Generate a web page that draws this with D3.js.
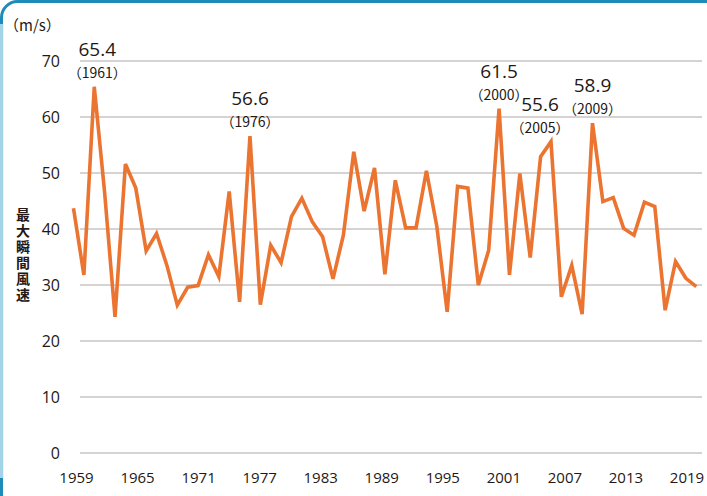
<!DOCTYPE html>
<html>
<head>
<meta charset="utf-8">
<script src="https://cdn.jsdelivr.net/npm/d3@7"></script>
<style>
  body { margin: 0; background: #fff; }
  text { fill: #231815; }
  .tick text { font-family: 'Open Sans', 'Noto Sans', sans-serif; font-size: 15px; }
</style>
</head>
<body>
<div id="chart"></div>
<script>
// yearly maximum gust (m/s), 1959-2019
let years = d3.range(1959, 2020)
let gust = [
  43.7, 31.8, 65.4, 46.5, 24.3, 51.6, 47.3, 36.1, 39.2, 33.5,
  26.4, 29.6, 29.9, 35.4, 31.5, 46.7, 27.0, 56.6, 26.5, 37.1,
  34.0, 42.2, 45.5, 41.3, 38.6, 31.1, 38.9, 53.8, 43.2, 50.9,
  31.9, 48.7, 40.2, 40.2, 50.4, 40.5, 25.2, 47.6, 47.3, 30.0,
  36.2, 61.5, 31.8, 49.9, 34.9, 52.9, 55.6, 27.9, 33.5, 24.8,
  58.9, 44.9, 45.6, 40.1, 38.9, 44.8, 44.0, 25.5, 34.2, 31.2,
  29.7
]
let tickYears = [1959, 1965, 1971, 1977, 1983, 1989, 1995, 2001, 2007, 2013, 2019]
let yTicks = [0, 10, 20, 30, 40, 50, 60, 70]
let peakYears = [1961, 1976, 2000, 2005, 2009]
let unitLabel = '（m/s）'
let axisTitle = '最大瞬間風速'

let width = 707
let height = 496
let data = years.map(function (y, i) { return { year: y, v: gust[i] } })

let svg = d3.select('#chart').append('svg')
  .attr('width', width)
  .attr('height', height)

// frame
svg.append('rect')
  .attr('x', 1.5).attr('y', 1.5)
  .attr('width', 740).attr('height', 540)
  .attr('rx', 16)
  .attr('fill', 'none')
  .attr('stroke', '#1e8bb9')
  .attr('stroke-width', 3)
svg.append('line')
  .attr('x1', 1.5).attr('x2', 1.5)
  .attr('y1', 24).attr('y2', 478)
  .attr('stroke', '#a3d3e6')
  .attr('stroke-width', 3.5)

let x = d3.scaleLinear().domain([1959, 2019]).range([73.5, 696.3])
let xLab = d3.scaleLinear().domain([1959, 2019]).range([76, 686.5])
let y = d3.scaleLinear().domain([0, 70]).range([453, 61])

// gridlines
svg.append('g')
  .selectAll('line')
  .data(yTicks)
  .enter()
  .append('line')
  .attr('x1', 80)
  .attr('x2', 702)
  .attr('y1', function (d) { return y(d) })
  .attr('y2', function (d) { return y(d) })
  .attr('stroke', '#c9c5c3')
  .attr('stroke-width', 1.6)

// axes
let yAxis = d3.axisLeft(y).tickValues(yTicks).tickSize(0).tickPadding(0)
svg.append('g')
  .attr('transform', 'translate(60,0)')
  .call(yAxis)
  .call(function (g) { g.select('.domain').remove() })
  .selectAll('text')
  .attr('dy', '0.36em')
  .style('font-size', '16px')

let xAxis = d3.axisBottom(xLab).tickValues(tickYears).tickSize(0).tickPadding(0).tickFormat(d3.format('d'))
svg.append('g')
  .attr('transform', 'translate(0,472)')
  .call(xAxis)
  .call(function (g) { g.select('.domain').remove() })
  .selectAll('text')
  .attr('dy', '0.71em')

// line
let line = d3.line()
  .x(function (d) { return x(d.year) })
  .y(function (d) { return y(d.v) })
svg.append('path')
  .datum(data)
  .attr('d', line)
  .attr('fill', 'none')
  .attr('stroke', '#eb7430')
  .attr('stroke-width', 3.6)
  .attr('stroke-linejoin', 'miter')

// peak labels: value on top, year below
let shift = { 1961: 3, 2005: -11 }
let peaks = data.filter(function (d) { return peakYears.indexOf(d.year) >= 0 })
let pk = svg.append('g').selectAll('g')
  .data(peaks)
  .enter()
  .append('g')
  .attr('transform', function (d) {
    return 'translate(' + (x(d.year) + (shift[d.year] || 0)) + ',' + (y(d.v) - 9) + ')'
  })
pk.append('text')
  .attr('text-anchor', 'middle')
  .attr('y', -22)
  .style('font-family', "'Open Sans', 'Noto Sans', sans-serif")
  .style('font-size', '19px')
  .text(function (d) { return d.v.toFixed(1) })
pk.append('text')
  .attr('text-anchor', 'middle')
  .attr('y', 0)
  .style('font-family', "'Noto Sans CJK JP', sans-serif")
  .style('font-size', '14px')
  .text(function (d) { return '（' + d.year + '）' })

// unit
svg.append('text')
  .attr('x', 4)
  .attr('y', 31)
  .style('font-family', "'Noto Sans CJK JP', sans-serif")
  .style('font-size', '15px')
  .text(unitLabel)

// vertical axis title
svg.append('text')
  .attr('x', 23)
  .attr('y', 208)
  .style('writing-mode', 'vertical-rl')
  .style('font-family', "'Noto Sans CJK JP', sans-serif")
  .style('font-size', '14px')
  .style('font-weight', 'bold')
  .style('letter-spacing', '2px')
  .text(axisTitle)
</script>
</body>
</html>
